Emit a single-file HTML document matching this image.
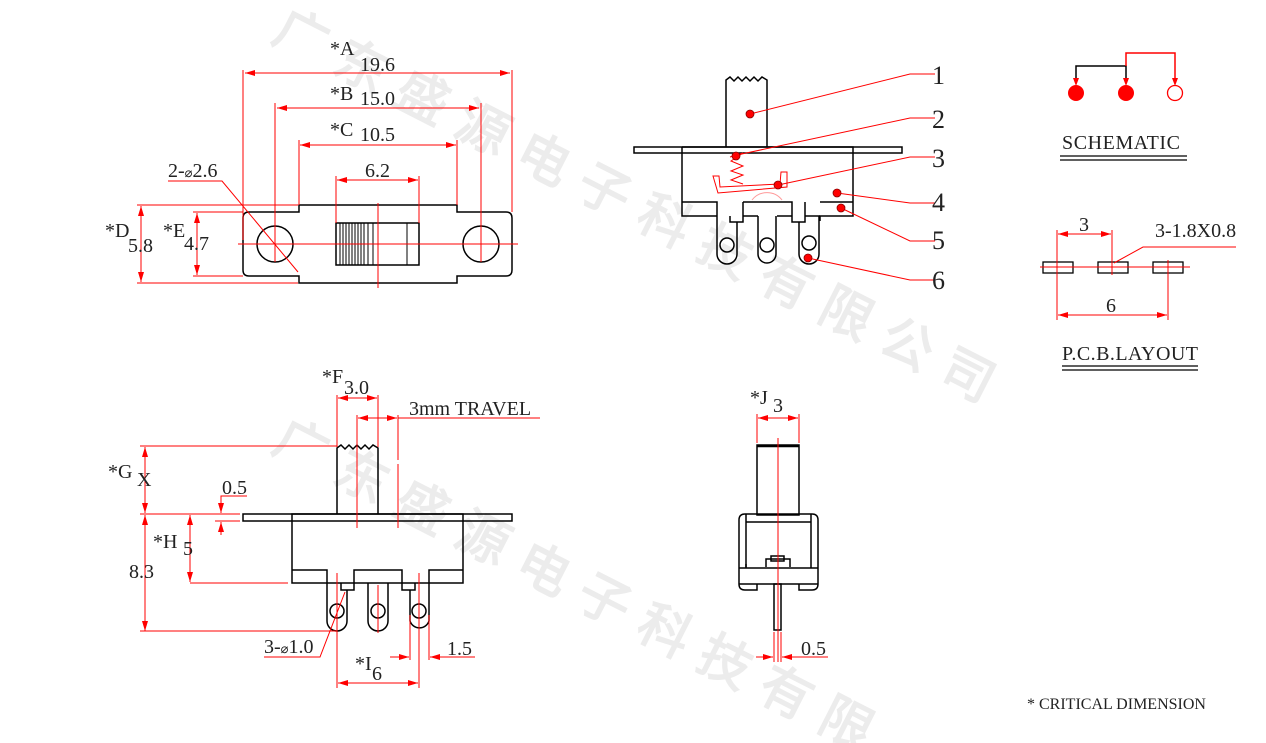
<!DOCTYPE html>
<html><head><meta charset="utf-8"><style>
html,body{margin:0;padding:0;background:#fff;width:1266px;height:743px;overflow:hidden;}
svg{display:block;}
text{font-family:"Liberation Serif",serif;}
.wm{font-family:"Liberation Sans","Noto Sans CJK SC",sans-serif;font-weight:bold;font-size:52px;fill:#ececec;}
</style></head><body>
<svg width="1266" height="743" viewBox="0 0 1266 743" xmlns="http://www.w3.org/2000/svg" overflow="hidden">
<defs>
<marker id="ar" viewBox="0 0 10 6" refX="10" refY="3" markerWidth="10" markerHeight="6" orient="auto-start-reverse" markerUnits="userSpaceOnUse"><path d="M0,0 L10,3 L0,6 z" fill="#f00"/></marker>
</defs>
<g class="wm">
<text transform="translate(270,40) rotate(27)" letter-spacing="16">广东盛源电子科技有限公司</text>
<text transform="translate(270,450) rotate(27)" letter-spacing="16">广东盛源电子科技有限</text>
</g>

<g fill="none" stroke="#000" stroke-width="1.5">
<path d="M249,212 H299 V205 H457 V212 H506 Q512,212 512,218 V270 Q512,276 506,276 H457 V283 H299 V276 H249 Q243,276 243,270 V218 Q243,212 249,212 Z"/>
<circle cx="275" cy="244" r="18"/>
<circle cx="481" cy="244" r="18"/>
<rect x="336" y="223" width="83" height="42"/>
</g>
<g stroke="#000" stroke-width="1">
<line x1="340" y1="223" x2="340" y2="265"/><line x1="343" y1="223" x2="343" y2="265"/><line x1="346" y1="223" x2="346" y2="265"/><line x1="349" y1="223" x2="349" y2="265"/><line x1="352" y1="223" x2="352" y2="265"/><line x1="355" y1="223" x2="355" y2="265"/><line x1="358" y1="223" x2="358" y2="265"/><line x1="361" y1="223" x2="361" y2="265"/><line x1="364" y1="223" x2="364" y2="265"/><line x1="368" y1="223" x2="368" y2="265"/><line x1="373" y1="223" x2="373" y2="265"/><line x1="407" y1="223" x2="407" y2="265"/>
</g>
<g stroke="#f00" stroke-width="1" fill="none">
<line x1="238" y1="244" x2="518" y2="244"/>
<line x1="378" y1="203" x2="378" y2="288"/>
<line x1="275" y1="103" x2="275" y2="262"/>
<line x1="481" y1="103" x2="481" y2="262"/>
<line x1="243" y1="70" x2="243" y2="240"/>
<line x1="512" y1="70" x2="512" y2="212"/>
<line x1="299" y1="140" x2="299" y2="205"/>
<line x1="457" y1="140" x2="457" y2="205"/>
<line x1="336" y1="176" x2="336" y2="223"/>
<line x1="419" y1="176" x2="419" y2="223"/>
<line x1="245" y1="73" x2="510" y2="73" marker-start="url(#ar)" marker-end="url(#ar)"/>
<line x1="277" y1="108" x2="479" y2="108" marker-start="url(#ar)" marker-end="url(#ar)"/>
<line x1="300" y1="145" x2="456" y2="145" marker-start="url(#ar)" marker-end="url(#ar)"/>
<line x1="337" y1="180" x2="418" y2="180" marker-start="url(#ar)" marker-end="url(#ar)"/>
<line x1="137" y1="205" x2="298" y2="205"/>
<line x1="137" y1="283" x2="298" y2="283"/>
<line x1="141" y1="206" x2="141" y2="282" marker-start="url(#ar)" marker-end="url(#ar)"/>
<line x1="193" y1="212" x2="243" y2="212"/>
<line x1="193" y1="276" x2="243" y2="276"/>
<line x1="197" y1="213" x2="197" y2="275" marker-start="url(#ar)" marker-end="url(#ar)"/>
<polyline points="168,181 222,181 298,272"/>
</g>
<g font-size="20" fill="#222">
<text x="330" y="55">*A</text><text x="360" y="71">19.6</text>
<text x="330" y="100">*B</text><text x="360" y="105">15.0</text>
<text x="330" y="136">*C</text><text x="360" y="141">10.5</text>
<text x="365" y="177">6.2</text>
<text x="168" y="177">2-<tspan font-size="13">⌀</tspan>2.6</text>
<text x="105" y="237">*D</text><text x="128" y="252">5.8</text>
<text x="163" y="237">*E</text><text x="184" y="250">4.7</text>
</g>

<g fill="none" stroke="#000" stroke-width="1.5">
<path d="M726,147 V80 L730,77 L734,81 L738,77 L742,81 L746,77 L750,81 L754,77 L758,81 L762,77 L767,80 V147"/>
<rect x="634" y="147" width="268" height="6"/>
<path d="M682,147 H853 V216 H820 V221 M682,147 V216 H717"/>
<path d="M682,202 H717 V215 M717,202 V216 M743,202 H792 V216 M820,202 H853"/>
<path d="M730,216 V222 H743 V202 M792,216 V222 H805 V202 M805,216 H820 M743,216 H758 M777,216 H792"/>
<path d="M717,216 V254 A10,10 0 0 0 737,254 V222"/>
<path d="M758,216 V254 A9,9 0 0 0 776,254 V216"/>
<path d="M799,222 V254 A10,10 0 0 0 819,254 V216"/>
<circle cx="727" cy="245" r="7"/><circle cx="767" cy="245" r="7"/><circle cx="809" cy="243" r="7"/>
</g>
<g stroke="#f00" stroke-width="1" fill="none">
<path d="M730,157 L743,153 L731,161 L743,166 L731,171 L743,175 L731,180 L743,184"/>
<path d="M713,176 L719,176 L720,187 L780,184 L781,172 L787,172 L787,187 L718,193 Z"/>
<path d="M752,200 A19,19 0 0 1 782,200" stroke="#f99"/>
<polyline points="750,114 910,74 935,74"/>
<polyline points="737,155 910,118 935,118"/>
<polyline points="778,185 910,157 935,157"/>
<polyline points="837,193 910,203 935,203"/>
<polyline points="841,208 910,241 935,241"/>
<polyline points="808,258 910,280 935,280"/>
</g>
<g fill="#f00" stroke="#800" stroke-width="0.8">
<circle cx="750" cy="114" r="4"/><circle cx="736" cy="156" r="4"/><circle cx="778" cy="185" r="4"/><circle cx="837" cy="193" r="4"/><circle cx="841" cy="208" r="4"/><circle cx="808" cy="258" r="4"/>
</g>
<g font-size="26" fill="#222">
<text x="932" y="84">1</text><text x="932" y="128">2</text><text x="932" y="167">3</text><text x="932" y="211">4</text><text x="932" y="249">5</text><text x="932" y="289">6</text>
</g>

<polyline points="1076,82 1076,66 1126,66 1126,82" fill="none" stroke="#000" stroke-width="1.5"/>
<polyline points="1126,66 1126,53 1175,53 1175,82" fill="none" stroke="#f00" stroke-width="1.5"/>
<path d="M1073,78 L1079,78 L1076,86 Z M1123,78 L1129,78 L1126,86 Z M1172,78 L1178,78 L1175,86 Z" fill="#f00"/>
<circle cx="1076" cy="93" r="8" fill="#f00"/>
<circle cx="1126" cy="93" r="8" fill="#f00"/>
<circle cx="1175" cy="93" r="7.5" fill="#fff" stroke="#f00" stroke-width="1.3"/>
<text x="1062" y="149" font-size="20" fill="#222" textLength="118">SCHEMATIC</text>
<line x1="1060" y1="156" x2="1187" y2="156" stroke="#000" stroke-width="1.3"/>
<line x1="1060" y1="160" x2="1187" y2="160" stroke="#000" stroke-width="1.3"/>

<g fill="none" stroke="#000" stroke-width="1.3">
<rect x="1043" y="262" width="30" height="11"/><rect x="1098" y="262" width="30" height="11"/><rect x="1153" y="262" width="30" height="11"/>
</g>
<g stroke="#f00" stroke-width="1" fill="none">
<line x1="1040" y1="267" x2="1190" y2="267"/>
<line x1="1057" y1="230" x2="1057" y2="320"/>
<line x1="1112" y1="230" x2="1112" y2="275"/>
<line x1="1168" y1="260" x2="1168" y2="320"/>
<line x1="1058" y1="234" x2="1111" y2="234" marker-start="url(#ar)" marker-end="url(#ar)"/>
<line x1="1058" y1="315" x2="1167" y2="315" marker-start="url(#ar)" marker-end="url(#ar)"/>
<polyline points="1114,263 1143,247 1236,247"/>
</g>
<g font-size="20" fill="#222">
<text x="1079" y="231">3</text>
<text x="1155" y="237">3-1.8X0.8</text>
<text x="1106" y="312">6</text>
<text x="1062" y="360" textLength="136">P.C.B.LAYOUT</text>
</g>
<line x1="1062" y1="366" x2="1198" y2="366" stroke="#000" stroke-width="1.3"/>
<line x1="1062" y1="370" x2="1198" y2="370" stroke="#000" stroke-width="1.3"/>

<g fill="none" stroke="#000" stroke-width="1.5">
<path d="M337,514 V448 L341,445 L345,449 L349,445 L353,449 L357,445 L361,449 L365,445 L369,449 L373,445 L378,448 V514"/>
<rect x="243" y="514" width="269" height="7"/>
<path d="M292,514 H463 V583 H292 Z"/>
<path d="M292,570 H327 V583 M354,583 V570 H402 V583 M429,583 V570 H463"/>
<path d="M341,583 V590 H354 V583 M402,583 V590 H415 V583"/>
<path d="M327,583 V621 A10,10 0 0 0 347,621 V590"/>
<path d="M368,583 V621 A10,10 0 0 0 388,621 V583"/>
<path d="M410,590 V621 A10,10 0 0 0 429,621 V583"/>
<circle cx="337" cy="611" r="7"/><circle cx="378" cy="611" r="7"/><circle cx="419" cy="611" r="7"/>
</g>
<g stroke="#f00" stroke-width="1" fill="none">
<line x1="337" y1="395" x2="337" y2="447"/>
<line x1="378" y1="395" x2="378" y2="447"/>
<line x1="338" y1="398" x2="377" y2="398" marker-start="url(#ar)" marker-end="url(#ar)"/>
<line x1="357" y1="415" x2="357" y2="528"/>
<line x1="398" y1="415" x2="398" y2="528" stroke-dasharray="45,4,200"/>
<line x1="358" y1="418" x2="397" y2="418" marker-start="url(#ar)" marker-end="url(#ar)"/>
<line x1="398" y1="418" x2="540" y2="418"/>
<line x1="140" y1="446" x2="337" y2="446"/>
<line x1="140" y1="514" x2="240" y2="514"/>
<line x1="145" y1="447" x2="145" y2="513" marker-start="url(#ar)" marker-end="url(#ar)"/>
<line x1="145" y1="515" x2="145" y2="631" marker-start="url(#ar)" marker-end="url(#ar)"/>
<line x1="140" y1="631" x2="337" y2="631"/>
<line x1="190" y1="583" x2="288" y2="583"/>
<line x1="190" y1="515" x2="190" y2="582" marker-start="url(#ar)" marker-end="url(#ar)"/>
<line x1="215" y1="521" x2="240" y2="521"/>
<polyline points="247,496 221,496 221,513" marker-end="url(#ar)"/>
<line x1="221" y1="535" x2="221" y2="522" marker-end="url(#ar)"/>
<line x1="337" y1="573" x2="337" y2="688"/>
<line x1="378" y1="585" x2="378" y2="633"/>
<line x1="419" y1="573" x2="419" y2="688"/>
<line x1="410" y1="615" x2="410" y2="660"/>
<line x1="429" y1="615" x2="429" y2="660"/>
<line x1="338" y1="683" x2="418" y2="683" marker-start="url(#ar)" marker-end="url(#ar)"/>
<line x1="390" y1="657" x2="409" y2="657" marker-end="url(#ar)"/>
<line x1="475" y1="657" x2="430" y2="657" marker-end="url(#ar)"/>
<polyline points="264,657 320,657 345,592"/>
</g>
<g font-size="20" fill="#222">
<text x="322" y="383">*F</text><text x="344" y="394">3.0</text>
<text x="409" y="415">3mm TRAVEL</text>
<text x="108" y="478">*G</text><text x="137" y="486">X</text>
<text x="222" y="494">0.5</text>
<text x="153" y="548">*H</text><text x="183" y="555">5</text>
<text x="129" y="578">8.3</text>
<text x="264" y="653">3-<tspan font-size="13">⌀</tspan>1.0</text>
<text x="355" y="670">*I</text><text x="372" y="680">6</text>
<text x="447" y="655">1.5</text>
</g>

<g fill="none" stroke="#000" stroke-width="1.5">
<rect x="757" y="445" width="42" height="70"/>
<line x1="757" y1="446" x2="799" y2="446" stroke-width="2.5"/>
<path d="M745,514 H812 Q818,514 818,520 V584 Q818,590 812,590 H799 V584 M745,514 Q739,514 739,520 V584 Q739,590 745,590 H757 V584"/>
<path d="M746,522 H811 M746,514 V568 M811,514 V568 M746,568 H811 M739,568 H818 M739,584 H818"/>
<path d="M746,567 V564 M766,567 V559 H790 V567"/>
<rect x="771" y="556" width="13" height="5"/>
<rect x="774" y="584" width="7" height="46"/>
</g>
<g stroke="#f00" stroke-width="1" fill="none">
<line x1="778" y1="438" x2="778" y2="662"/>
<line x1="757" y1="414" x2="757" y2="443"/>
<line x1="799" y1="414" x2="799" y2="443"/>
<line x1="758" y1="418" x2="798" y2="418" marker-start="url(#ar)" marker-end="url(#ar)"/>
<line x1="774" y1="632" x2="774" y2="662"/>
<line x1="781" y1="632" x2="781" y2="662"/>
<line x1="756" y1="657" x2="773" y2="657" marker-end="url(#ar)"/>
<line x1="828" y1="657" x2="782" y2="657" marker-end="url(#ar)"/>
</g>
<g font-size="20" fill="#222">
<text x="750" y="404">*J</text><text x="773" y="412">3</text>
<text x="801" y="655">0.5</text>
</g>

<text x="1027" y="709" font-size="16" fill="#222">* CRITICAL  DIMENSION</text>
</svg>
</body></html>
